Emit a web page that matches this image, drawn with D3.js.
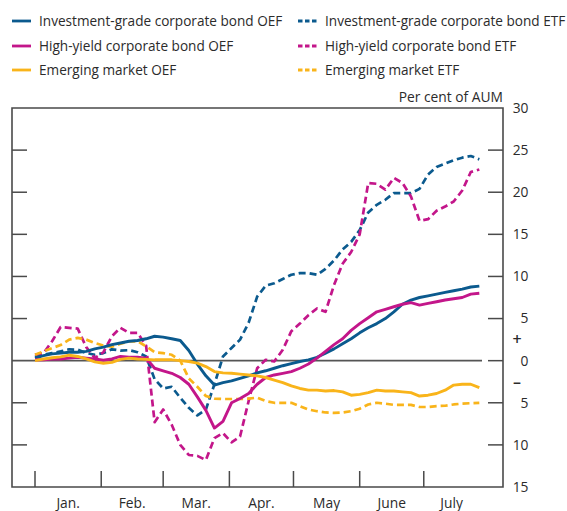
<!DOCTYPE html>
<html>
<head>
<meta charset="utf-8">
<script src="https://cdn.jsdelivr.net/npm/d3@7"></script>
<style>
  html, body { margin: 0; padding: 0; background: #fff; }
  svg { display: block; font-family: "Open Sans", "Noto Sans", sans-serif; }
</style>
</head>
<body>
<svg id="chart" width="567" height="511"></svg>
<script>
// Fund flows since the start of the year, per cent of assets under management.
// One observation every four days from 1 January to late July.
const startDate = new Date(2020, 0, 1);
const stepDays = 4;

const igOEF = [0.3, 0.6, 0.8, 0.9, 1.0, 1.0, 1.1, 1.4, 1.6, 1.9, 2.1, 2.3, 2.4, 2.6, 2.9, 2.8, 2.6, 2.4, 1.2, -0.4,
  -1.8, -2.9, -2.6, -2.4, -2.1, -1.8, -1.45, -1.2, -0.9, -0.6, -0.35, -0.1, 0.1, 0.4, 0.9, 1.4, 2.0, 2.6, 3.3, 3.9,
  4.4, 5.0, 5.8, 6.7, 7.2, 7.5, 7.7, 7.9, 8.1, 8.3, 8.5, 8.75, 8.85];
const hyOEF = [0.1, 0.1, 0.2, 0.2, 0.3, 0.4, 0.3, 0.2, 0.05, 0.2, 0.5, 0.4, 0.4, 0.3, -0.9, -1.2, -1.5, -2.0, -2.8, -4.3,
  -5.9, -8.0, -7.2, -5.0, -4.5, -3.9, -2.8, -2.0, -1.7, -1.5, -1.3, -0.9, -0.4, 0.3, 1.1, 1.9, 2.6, 3.6, 4.4, 5.1,
  5.8, 6.1, 6.4, 6.7, 6.9, 6.6, 6.8, 7.0, 7.2, 7.35, 7.5, 7.9, 8.0];
const emOEF = [0.0, 0.2, 0.35, 0.45, 0.65, 0.5, 0.2, -0.15, -0.3, -0.2, 0.15, 0.3, 0.2, 0.15, 0.1, 0.1, 0.1, 0.0, -0.1, -0.3,
  -0.7, -1.3, -1.45, -1.5, -1.6, -1.7, -1.8, -2.0, -2.3, -2.6, -3.0, -3.3, -3.5, -3.5, -3.6, -3.55, -3.7, -4.1, -4.0, -3.8,
  -3.5, -3.6, -3.6, -3.7, -3.8, -4.2, -4.1, -3.9, -3.5, -2.9, -2.8, -2.8, -3.2];
const igETF = [0.45, 0.7, 0.9, 1.1, 1.35, 1.3, 0.9, 0.7, 0.9, 1.35, 1.2, 1.25, 1.0, 0.5, -2.2, -3.3, -3.1, -4.4, -5.6, -6.5,
  -5.8, -2.8, 0.5, 1.5, 2.5, 4.5, 7.6, 8.9, 9.2, 9.7, 10.2, 10.4, 10.4, 10.2, 10.9, 11.9, 13.2, 14.1, 15.5, 17.6,
  18.5, 19.1, 19.9, 19.9, 19.9, 20.4, 22.1, 23.0, 23.4, 23.8, 24.1, 24.3, 23.9];
const hyETF = [0.7, 0.9, 2.3, 4.0, 3.9, 3.8, 1.6, 0.3, 1.0, 2.9, 3.9, 3.3, 3.3, 1.8, -7.3, -5.8, -7.6, -10.0, -11.2, -11.3,
  -11.8, -9.2, -8.6, -9.7, -9.0, -4.8, -0.9, 0.1, -0.1, 1.3, 3.5, 4.4, 5.4, 6.2, 5.8, 9.0, 11.5, 12.9, 15.0, 21.1,
  21.0, 20.3, 21.7, 21.1, 19.5, 16.6, 16.8, 17.8, 18.3, 18.9, 20.2, 22.4, 22.7];
const emETF = [0.7, 1.1, 1.5, 1.85, 2.5, 2.7, 2.5, 2.1, 1.8, 1.65, 2.0, 2.3, 2.3, 1.7, 1.0, 0.9, 0.7, 0.0, -2.1, -3.1,
  -4.2, -4.5, -4.55, -4.55, -4.55, -4.5, -4.4, -4.8, -5.0, -5.0, -5.0, -5.4, -5.8, -6.0, -6.15, -6.2, -6.15, -6.0, -5.7, -5.2,
  -5.0, -5.1, -5.25, -5.25, -5.25, -5.5, -5.5, -5.4, -5.35, -5.2, -5.1, -5.05, -5.0];

const seriesNames = [
  "Investment-grade corporate bond OEF", "Investment-grade corporate bond ETF",
  "High-yield corporate bond OEF", "High-yield corporate bond ETF",
  "Emerging market OEF", "Emerging market ETF"
];
const seriesValues = [igOEF, igETF, hyOEF, hyETF, emOEF, emETF];
const seriesColours = ["#0b5a8e", "#0b5a8e", "#c3168a", "#c3168a", "#f9b41a", "#f9b41a"];
const seriesDashed = [false, true, false, true, false, true];

const monthLabels = ["Jan.", "Feb.", "Mar.", "Apr.", "May", "June", "July"];
const yTicks = [30, 25, 20, 15, 10, 5, 0, -5, -10, -15];
const unitLabel = "Per cent of AUM";

// ---- layout
const frame = { left: 12, right: 503, top: 108, bottom: 487 };
const svg = d3.select("#chart");

const dates = igOEF.map((_, i) => d3.timeDay.offset(startDate, i * stepDays));
const lastDate = dates[dates.length - 1];

const x = d3.scaleTime()
  .domain([new Date(2020, 0, 1), new Date(2020, 7, 1)])
  .range([35, 490]);
const y = d3.scaleLinear().domain([-15, 30]).range([frame.bottom, frame.top]);

const axisColour = "#4a4a4a";
const textColour = "#2b2b2b";
const axisFont = "13.8px";

// ---- ticks on left and right (pointing inwards)
const yAxisRight = d3.axisRight(y).tickValues(yTicks).tickSize(0).tickFormat(d => Math.abs(d));
const gR = svg.append("g").attr("transform", `translate(${frame.right},0)`).call(yAxisRight);
gR.select(".domain").remove();
gR.selectAll("text")
  .attr("x", 25.5).attr("text-anchor", "end")
  .attr("fill", textColour).style("font-size", axisFont).style("font-family", "Open Sans, sans-serif");

const tickLen = 15;
svg.append("g").selectAll("line").data(yTicks.filter(d => d !== 30 && d !== -15)).join("line")
  .attr("x1", frame.right - tickLen).attr("x2", frame.right)
  .attr("y1", d => y(d)).attr("y2", d => y(d))
  .attr("stroke", axisColour).attr("stroke-width", 1.5);
svg.append("g").selectAll("line").data(yTicks.filter(d => d !== 30 && d !== -15 && d !== 0)).join("line")
  .attr("x1", frame.left).attr("x2", frame.left + tickLen)
  .attr("y1", d => y(d)).attr("y2", d => y(d))
  .attr("stroke", axisColour).attr("stroke-width", 1.5);

// sign markers beside the zero label
svg.append("text").attr("x", 517).attr("y", y(2.5)).attr("dy", "0.35em")
  .attr("text-anchor", "middle").attr("fill", textColour).style("font-size", "16px").style("font-weight", "600").text("+");
svg.append("text").attr("x", 517).attr("y", y(-2.6)).attr("dy", "0.35em")
  .attr("text-anchor", "middle").attr("fill", textColour).style("font-size", "16px").style("font-weight", "600").text("\u2013");

// ---- month ticks and labels along the bottom
const monthStarts = monthLabels.map((_, i) => new Date(2020, i, 1));
svg.append("g").selectAll("line").data(monthStarts).join("line")
  .attr("x1", d => x(d)).attr("x2", d => x(d))
  .attr("y1", frame.bottom - 16).attr("y2", frame.bottom)
  .attr("stroke", axisColour).attr("stroke-width", 1.5);
svg.append("g").selectAll("text").data(monthStarts).join("text")
  .attr("x", (d, i) => {
    const end = i < monthStarts.length - 1 ? monthStarts[i + 1] : lastDate;
    return (x(d) + x(end)) / 2;
  })
  .attr("y", 508)
  .attr("text-anchor", "middle")
  .attr("fill", textColour).style("font-size", axisFont)
  .text((d, i) => monthLabels[i]);

// ---- zero line
svg.append("line")
  .attr("x1", frame.left).attr("x2", 482)
  .attr("y1", y(0)).attr("y2", y(0))
  .attr("stroke", "#555").attr("stroke-width", 1.6);

// ---- series
const line = d3.line().x(d => x(d.date)).y(d => y(d.v));
const order = [1, 3, 5, 0, 2, 4];
svg.append("g").selectAll("path").data(order).join("path")
  .attr("d", i => line(seriesValues[i].map((v, j) => ({ date: dates[j], v }))))
  .attr("fill", "none")
  .attr("stroke", i => seriesColours[i])
  .attr("stroke-width", i => seriesDashed[i] ? 2.7 : 2.9)
  .attr("stroke-dasharray", i => seriesDashed[i] ? "7,4" : null)
  .attr("stroke-linejoin", "round");

// ---- frame
svg.append("path")
  .attr("d", `M${frame.left},${frame.bottom}V${frame.top}H${frame.right}V${frame.bottom}Z`)
  .attr("fill", "none").attr("stroke", axisColour).attr("stroke-width", 1.6);

// ---- unit label
svg.append("text").attr("x", frame.right).attr("y", 102)
  .attr("text-anchor", "end").attr("fill", textColour).style("font-size", axisFont).text(unitLabel);

// ---- legend
const legendCols = [12, 298];
const legendRows = [21, 46, 70];
const lg = svg.append("g").selectAll("g").data(seriesNames).join("g")
  .attr("transform", (d, i) => `translate(${legendCols[i % 2]},${legendRows[Math.floor(i / 2)]})`);
lg.append("line")
  .attr("x1", 0).attr("x2", 19).attr("y1", 0).attr("y2", 0)
  .attr("stroke", (d, i) => seriesColours[i])
  .attr("stroke-width", 2.8)
  .attr("stroke-dasharray", (d, i) => seriesDashed[i] ? "4.5,2.5" : null);
lg.append("text")
  .attr("x", 27).attr("y", 0).attr("dy", "0.35em")
  .attr("fill", textColour).style("font-size", "13.6px")
  .text(d => d);
</script>
</body>
</html>
